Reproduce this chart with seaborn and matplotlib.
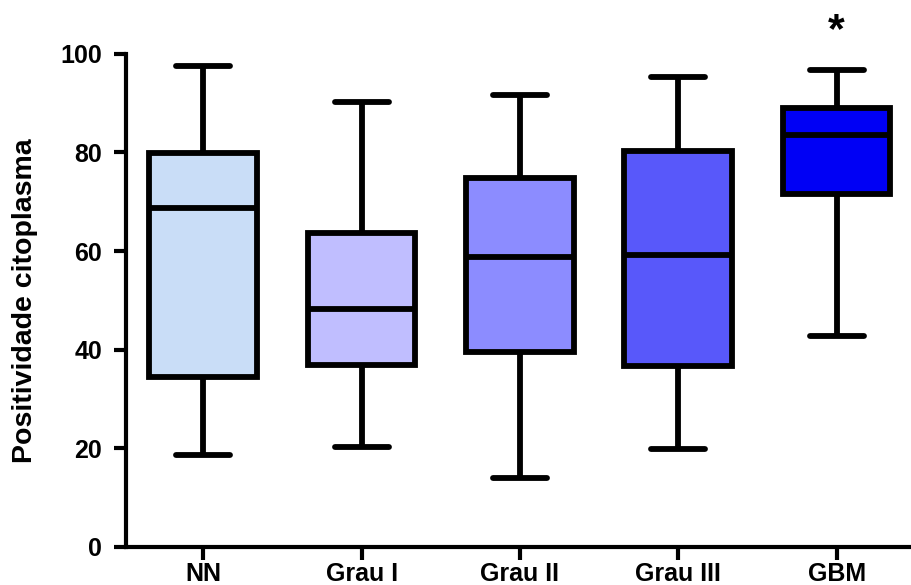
import numpy as np
import pandas as pd
import matplotlib
matplotlib.use("Agg")
import matplotlib.pyplot as plt
import seaborn as sns

# Five-number summaries (min, Q1, median, Q3, max) for each group
groups = ["NN", "Grau I", "Grau II", "Grau III", "GBM"]
nn = [18.7, 34.5, 68.8, 79.9, 97.6]
grau_i = [20.3, 36.9, 48.3, 63.7, 90.2]
grau_ii = [14.0, 39.6, 58.8, 74.9, 91.7]
grau_iii = [19.9, 36.7, 59.2, 80.2, 95.4]
gbm = [42.8, 71.6, 83.5, 89.1, 96.8]
colors = ["#C9DDF7", "#C0BEFF", "#8C8CFF", "#5858FA", "#0000F5"]
y_ticks = [0, 20, 40, 60, 80, 100]

df = pd.DataFrame({
    "grupo": np.repeat(groups, 5),
    "valor": nn + grau_i + grau_ii + grau_iii + gbm,
})

sns.set_style("ticks")
plt.rcParams["font.family"] = ["Liberation Sans", "DejaVu Sans"]
plt.rcParams["font.weight"] = "bold"
for key in ["text.color", "axes.labelcolor", "xtick.color", "ytick.color", "axes.edgecolor"]:
    plt.rcParams[key] = "black"

fig = plt.figure(figsize=(9.11, 5.85), dpi=100)
ax = fig.add_axes([0.138, 0.065, 0.862, 0.843])

lw = 4.2
sns.boxplot(
    data=df, x="grupo", y="valor", hue="grupo", order=groups,
    palette=colors, legend=False, width=0.68, whis=(0, 100),
    linecolor="black", linewidth=lw, showfliers=False, saturation=1,
    capprops=dict(solid_capstyle="round"),
    ax=ax,
)

ax.set_ylim(0, 100)
ax.set_xlim(-0.49, 4.47)
ax.set_yticks(y_ticks)
ax.set_yticklabels([str(t) for t in y_ticks], fontsize=18, fontweight="bold")
ax.set_xticks(range(len(groups)))
ax.set_xticklabels(groups, fontsize=18, fontweight="bold")
ax.set_xlabel("")
ax.set_ylabel("Positividade citoplasma", fontsize=20.5, fontweight="bold", labelpad=16)

for side in ["top", "right"]:
    ax.spines[side].set_visible(False)
for side in ["left", "bottom"]:
    ax.spines[side].set_linewidth(3.0)
ax.tick_params(axis="both", width=3.0, length=9, color="black")
ax.tick_params(axis="y", pad=8)
ax.tick_params(axis="x", pad=1.5)

ax.text(4, 100.6, "*", ha="center", va="bottom", fontsize=31,
        fontweight="bold", clip_on=False)

fig.savefig("out.png", dpi=100)
